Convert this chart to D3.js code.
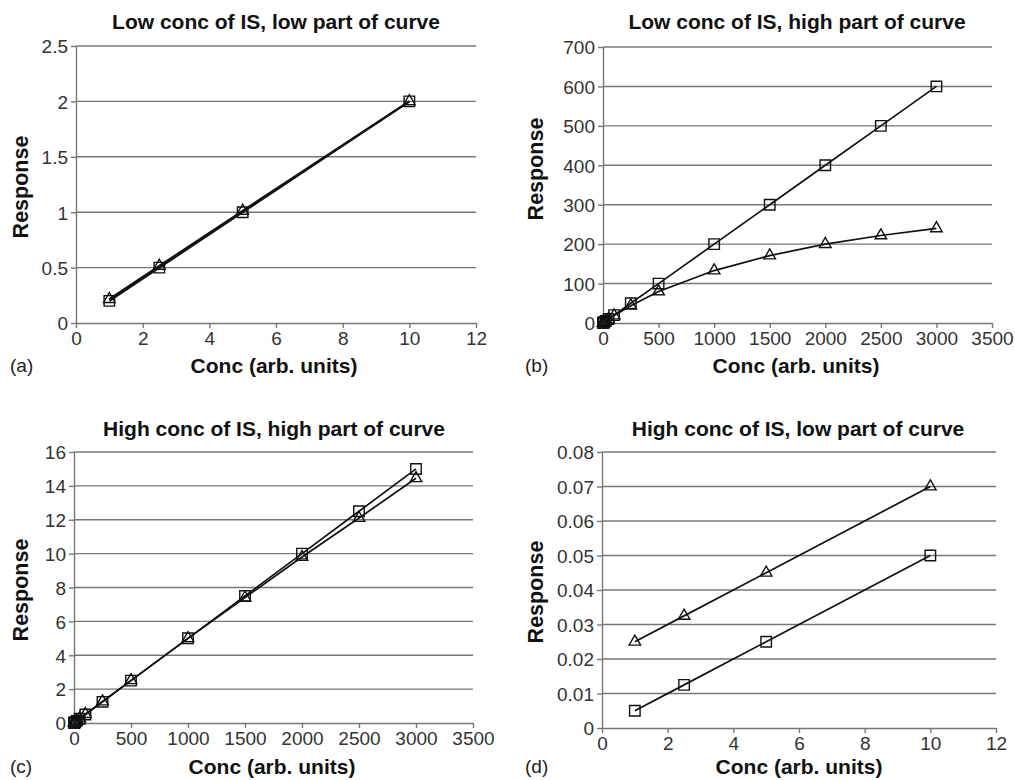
<!DOCTYPE html>
<html>
<head>
<meta charset="utf-8">
<script src="https://cdn.jsdelivr.net/npm/d3@7"></script>
<style>
  body { margin: 0; background: #fff; }
  svg { display: block; font-family: "Liberation Sans", Arial, sans-serif; }
</style>
</head>
<body>
<script>
var w = 1015;
var h = 780;

// concentrations
var concLow = [1, 2.5, 5, 10];
var concHigh = [1, 2.5, 5, 10, 25, 50, 100, 250, 500, 1000, 1500, 2000, 2500, 3000];

// (a) low conc of IS, low part
var aSquare = [0.2, 0.5, 1.0, 2.0];
var aTriangle = [0.215, 0.515, 1.012, 2.0];
// (b) low conc of IS, high part
var bSquare = [0.2, 0.5, 1, 2, 5, 10, 20, 50, 100, 200, 300, 400, 500, 600];
var bTriangle = [0.2, 0.5, 1, 2, 4.9, 9.8, 19, 44, 80, 133, 171, 200, 222, 240];
// (c) high conc of IS, high part
var cSquare = [0.005, 0.0125, 0.025, 0.05, 0.125, 0.25, 0.5, 1.25, 2.5, 5, 7.5, 10, 12.5, 15];
var cTriangle = [0.025, 0.0325, 0.045, 0.07, 0.14, 0.27, 0.52, 1.27, 2.52, 5.0, 7.4, 9.8, 12.1, 14.45];
// (d) high conc of IS, low part
var dSquare = [0.005, 0.0125, 0.025, 0.05];
var dTriangle = [0.025, 0.0325, 0.045, 0.07];

var ticksA = [0, 0.5, 1, 1.5, 2, 2.5];
var ticksB = [0, 100, 200, 300, 400, 500, 600, 700];
var ticksC = [0, 2, 4, 6, 8, 10, 12, 14, 16];
var ticksD = [0, 0.01, 0.02, 0.03, 0.04, 0.05, 0.06, 0.07, 0.08];
var xTicksLow = [0, 2, 4, 6, 8, 10, 12];
var xTicksHigh = [0, 500, 1000, 1500, 2000, 2500, 3000, 3500];

var panels = [
  {title: "Low conc of IS, low part of curve", tag: "(a)", x: concLow, sq: aSquare, tri: aTriangle,
   yTicks: ticksA, xTicks: xTicksLow, fmt: d3.format(""), lw: 2.2,
   box: {l: 76, r: 476, t: 46, b: 323}, titleX: 276, titleY: 29, xTitleX: 274, xTitleY: 373,
   yTitleX: 28, yTitleY: 187, tagX: 10},
  {title: "Low conc of IS, high part of curve", tag: "(b)", x: concHigh, sq: bSquare, tri: bTriangle,
   yTicks: ticksB, xTicks: xTicksHigh, fmt: d3.format(""), lw: 1.7,
   box: {l: 603, r: 992, t: 47, b: 323}, titleX: 797, titleY: 29, xTitleX: 796, xTitleY: 373,
   yTitleX: 543, yTitleY: 169, tagX: 525},
  {title: "High conc of IS, high part of curve", tag: "(c)", x: concHigh, sq: cSquare, tri: cTriangle,
   yTicks: ticksC, xTicks: xTicksHigh, fmt: d3.format(""), lw: 1.7,
   box: {l: 74, r: 473, t: 452, b: 723}, titleX: 274, titleY: 436, xTitleX: 272, xTitleY: 774,
   yTitleX: 28, yTitleY: 590, tagX: 10},
  {title: "High conc of IS, low part of curve", tag: "(d)", x: concLow, sq: dSquare, tri: dTriangle,
   yTicks: ticksD, xTicks: xTicksLow, fmt: d3.format(".2f"), lw: 1.7,
   box: {l: 602, r: 996, t: 452, b: 728}, titleX: 798, titleY: 436, xTitleX: 799, xTitleY: 774,
   yTitleX: 543, yTitleY: 592, tagX: 525}
];

var svg = d3.select("body")
            .append("svg")
                .attr("width", w)
                .attr("height", h);

function drawPanel(p) {
    var b = p.box;
    var x = d3.scaleLinear().domain([0, d3.max(p.xTicks)]).range([b.l, b.r]);
    var y = d3.scaleLinear().domain([0, d3.max(p.yTicks)]).range([b.b, b.t]);
    var g = svg.append("g");

    // horizontal grid
    g.selectAll("line.grid")
        .data(p.yTicks.slice(1))
        .enter()
        .append("line")
            .attr("class", "grid")
            .attr("x1", b.l).attr("x2", b.r)
            .attr("y1", function(d) {return y(d);})
            .attr("y2", function(d) {return y(d);})
            .attr("stroke", "#777")
            .attr("stroke-width", 1.4);

    var fmt = function(d) {
        if (d === 0) return "0";
        return p.fmt(d);
    };

    var yAxis = g.append("g")
        .attr("transform", "translate(" + b.l + ",0)")
        .call(d3.axisLeft(y).tickValues(p.yTicks).tickFormat(fmt).tickSize(5).tickSizeOuter(0));
    var xAxis = g.append("g")
        .attr("transform", "translate(0," + b.b + ")")
        .call(d3.axisBottom(x).tickValues(p.xTicks).tickFormat(d3.format("")).tickSize(5).tickSizeOuter(0));

    [yAxis, xAxis].forEach(function(ax) {
        ax.select(".domain").attr("stroke", "#777").attr("stroke-width", 1.4);
        ax.selectAll(".tick line").attr("stroke", "#777").attr("stroke-width", 1.4);
        ax.selectAll(".tick text")
            .attr("font-family", "Liberation Sans, Arial, sans-serif")
            .attr("font-size", 19)
            .attr("fill", "#333");
    });
    yAxis.selectAll(".tick text").attr("x", -8).attr("dy", "0.36em");
    xAxis.selectAll(".tick text").attr("y", 8).attr("dy", "0.76em");

    var line = d3.line()
        .x(function(d) {return x(d[0]);})
        .y(function(d) {return y(d[1]);});

    var sqData = p.x.map(function(c, i) {return [c, p.sq[i]];});
    var triData = p.x.map(function(c, i) {return [c, p.tri[i]];});

    [sqData, triData].forEach(function(data) {
        g.append("path")
            .datum(data)
            .attr("d", line)
            .attr("fill", "none")
            .attr("stroke", "#111")
            .attr("stroke-width", p.lw);
    });

    var sym = [
        {data: sqData, type: d3.symbolSquare, size: 110},
        {data: triData, type: d3.symbolTriangle, size: 58}
    ];
    sym.forEach(function(s) {
        g.selectAll(null)
            .data(s.data)
            .enter()
            .append("path")
                .attr("transform", function(d) {return "translate(" + x(d[0]) + "," + y(d[1]) + ")";})
                .attr("d", d3.symbol().type(s.type).size(s.size))
                .attr("fill", "none")
                .attr("stroke", "#111")
                .attr("stroke-width", 1.4);
    });

    g.append("text")
        .text(p.title)
        .attr("x", p.titleX).attr("y", p.titleY)
        .attr("text-anchor", "middle")
        .attr("font-size", 21)
        .attr("font-weight", "bold")
        .attr("fill", "#111");

    g.append("text")
        .text("Conc (arb. units)")
        .attr("x", p.xTitleX).attr("y", p.xTitleY)
        .attr("text-anchor", "middle")
        .attr("font-size", 21)
        .attr("font-weight", "bold")
        .attr("fill", "#111");

    g.append("text")
        .text("Response")
        .attr("transform", "translate(" + p.yTitleX + "," + p.yTitleY + ") rotate(-90)")
        .attr("text-anchor", "middle")
        .attr("font-size", 21.5)
        .attr("font-weight", "bold")
        .attr("fill", "#111");

    g.append("text")
        .text(p.tag)
        .attr("x", p.tagX).attr("y", p.xTitleY - 1)
        .attr("font-size", 19)
        .attr("fill", "#222");
}

panels.forEach(drawPanel);
</script>
</body>
</html>
